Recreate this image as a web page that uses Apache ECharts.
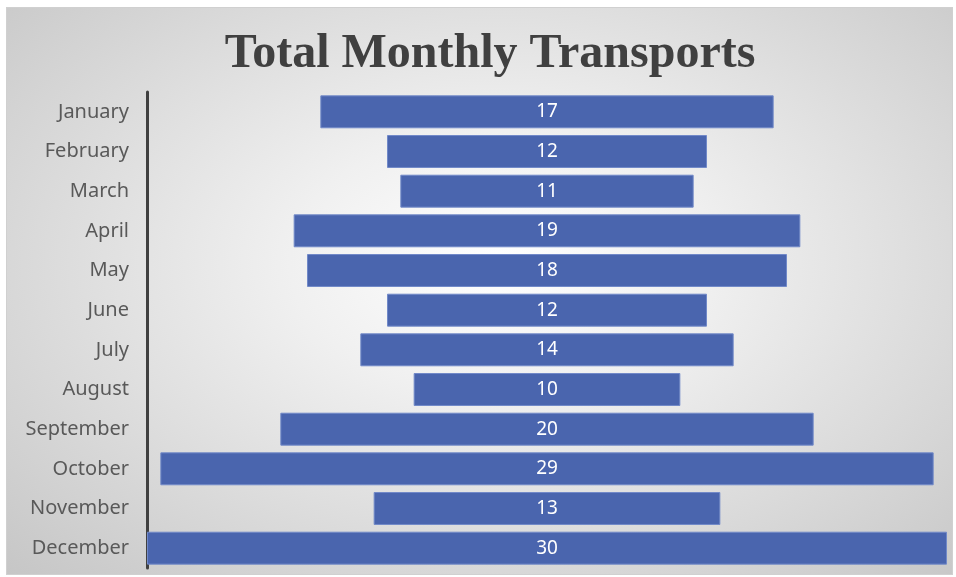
<!DOCTYPE html>
<html>
<head>
<meta charset="utf-8">
<script src="https://cdn.jsdelivr.net/npm/echarts@6/dist/echarts.min.js"></script>
<style>
body { margin: 0; background: #ffffff; }
#bg_div {
	position: absolute; left: 6px; top: 7px; width: 945px; height: 566px;
	border: 1px solid #d0d0d0;
	background: radial-gradient(ellipse at 52% 45%, #ffffff 0%, #f0f0f0 30%, #c6c6c6 100%);
}
#chart_div { position: absolute; left: 0; top: 0; width: 956px; height: 577px; }
</style>
</head>
<body>
<div id="bg_div"></div>
<div id="chart_div"></div>
<script>
var months = ['January', 'February', 'March', 'April', 'May', 'June', 'July', 'August', 'September', 'October', 'November', 'December'];
var transports = [17, 12, 11, 19, 18, 12, 14, 10, 20, 29, 13, 30];
var max_value = 30;

// invisible padding so each bar sits in the middle
var f_padding = function(values) {
	var t_pad = [];
	for (var i = 0; i < values.length; i++) {
		t_pad.push((max_value - values[i]) / 2);
	}
	return t_pad;
};

var chart = echarts.init(document.getElementById('chart_div'));

chart.setOption({
	backgroundColor: 'transparent',
	animation: false,
	title: {
		text: 'Total Monthly Transports',
		left: 485,
		textAlign: 'center',
		top: 26,
		textStyle: {
			fontFamily: 'Liberation Serif',
			fontWeight: 'bold',
			fontSize: 48,
			color: '#404040'
		}
	},
	grid: { left: 147, right: 9, top: 92, bottom: 9 },
	xAxis: {
		type: 'value',
		min: 0,
		max: max_value,
		show: false
	},
	yAxis: {
		type: 'category',
		data: months,
		inverse: true,
		axisLine: { show: true, lineStyle: { color: '#404040', width: 3 } },
		axisTick: { show: false },
		axisLabel: {
			margin: 18,
			fontFamily: 'Noto Sans',
			fontSize: 20,
			color: '#595959'
		}
	},
	series: [
		{
			type: 'bar',
			stack: 'funnel',
			data: f_padding(transports),
			itemStyle: { color: 'transparent' },
			barCategoryGap: '17%',
			silent: true
		},
		{
			type: 'bar',
			stack: 'funnel',
			data: transports,
			itemStyle: { color: '#4a65ae', borderColor: '#7189c8', borderWidth: 1 },
			label: {
				show: true,
				position: 'inside',
				fontFamily: 'Noto Sans',
				fontSize: 19,
				color: '#ffffff'
			}
		}
	]
});
</script>
</body>
</html>
